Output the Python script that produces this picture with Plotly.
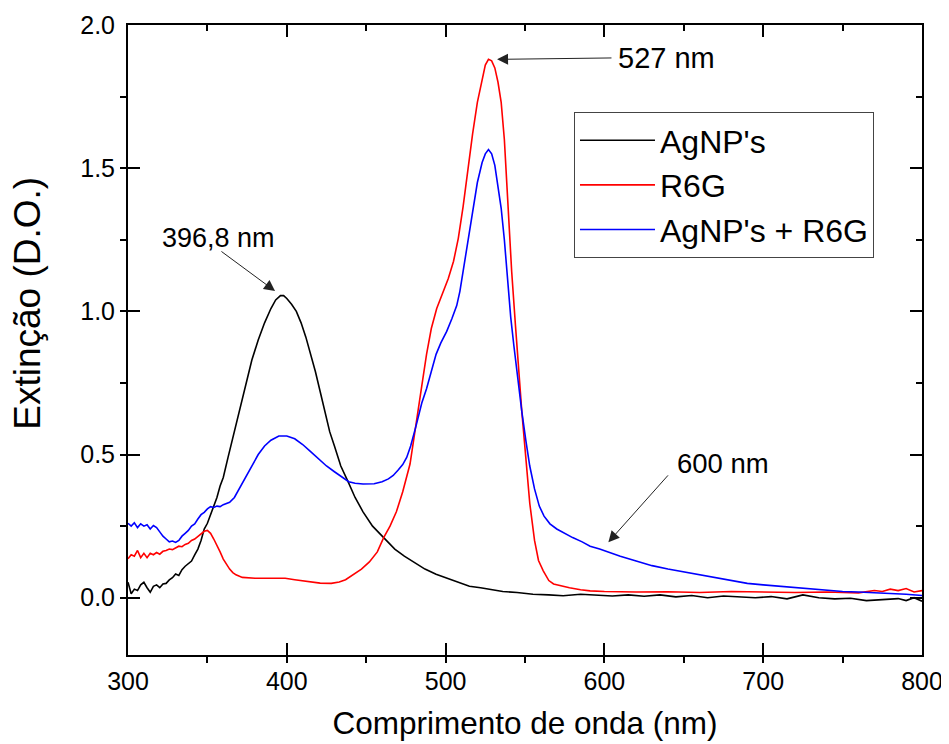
import plotly.graph_objects as go

# ---------------- data ----------------
wl_agnp = [300, 302, 304, 306, 308, 310, 312, 314, 316, 318, 320, 322, 324, 326, 328, 330, 332, 334, 336, 338,
           340, 342, 344, 346, 348, 350, 352, 354, 356, 358, 360, 363, 366, 370, 374, 378, 382, 386, 390, 393,
           396, 398, 400, 403, 406, 409, 412, 415, 418, 421, 424, 427, 430, 434, 439, 443, 448, 454, 461, 468,
           474, 480, 487, 494, 500, 507, 515, 522, 529, 536, 545, 555, 565, 574, 585, 595, 605, 615, 625, 635,
           645, 655, 665, 675, 685, 695, 705, 715, 725, 735, 745, 755, 765, 775, 785, 790, 795, 800]
ext_agnp = [0.054, 0.014, 0.030, 0.025, 0.045, 0.054, 0.035, 0.019, 0.040, 0.045, 0.035, 0.048, 0.050, 0.062,
            0.070, 0.083, 0.078, 0.098, 0.110, 0.118, 0.128, 0.150, 0.170, 0.200, 0.240, 0.260, 0.290, 0.320,
            0.350, 0.390, 0.420, 0.490, 0.560, 0.650, 0.740, 0.830, 0.900, 0.960, 1.010, 1.040, 1.055, 1.055,
            1.045, 1.025, 1.000, 0.960, 0.910, 0.850, 0.790, 0.720, 0.650, 0.580, 0.530, 0.460, 0.400, 0.350,
            0.300, 0.250, 0.210, 0.170, 0.145, 0.123, 0.100, 0.082, 0.070, 0.054, 0.040, 0.035, 0.028, 0.022,
            0.018, 0.012, 0.010, 0.007, 0.012, 0.008, 0.006, 0.010, 0.005, 0.010, 0.003, 0.008, 0.000, 0.006,
            0.002, 0.000, 0.004, -0.004, 0.010, 0.000, -0.004, -0.002, -0.010, -0.006, -0.003, -0.010, 0.000,
            -0.012]

wl_r6g = [300, 302, 304, 306, 308, 310, 312, 314, 316, 318, 320, 322, 324, 326, 328, 330, 332, 334, 336, 338,
          340, 342, 344, 346, 348, 350, 352, 354, 356, 358, 360, 362, 364, 366, 368, 372, 380, 390, 399, 405,
          412, 421, 428, 433, 437, 442, 447, 452, 457, 461, 465, 469, 473, 477.6, 481.4, 485, 488, 491, 494.4,
          498, 501.7, 505, 508, 511, 514, 517, 520, 523, 525, 527, 529, 531, 533, 535, 537, 539.5, 541.6, 544,
          546, 548, 550.5, 553, 556, 558.5, 561.5, 565, 568, 572, 578, 585, 591, 600, 620, 640, 660, 680, 700,
          720, 740, 760, 770, 775, 780, 785, 790, 795, 800]
ext_r6g = [0.136, 0.150, 0.145, 0.165, 0.140, 0.155, 0.140, 0.155, 0.150, 0.158, 0.152, 0.162, 0.165, 0.170,
           0.168, 0.175, 0.180, 0.178, 0.186, 0.190, 0.200, 0.205, 0.215, 0.225, 0.232, 0.235, 0.225, 0.205,
           0.185, 0.160, 0.135, 0.115, 0.100, 0.088, 0.080, 0.071, 0.068, 0.068, 0.068, 0.063, 0.058, 0.051,
           0.050, 0.055, 0.063, 0.080, 0.100, 0.125, 0.160, 0.210, 0.250, 0.300, 0.370, 0.467, 0.600, 0.740,
           0.850, 0.940, 1.010, 1.065, 1.115, 1.175, 1.255, 1.365, 1.500, 1.620, 1.730, 1.815, 1.860, 1.880,
           1.875, 1.850, 1.800, 1.730, 1.600, 1.350, 1.140, 0.950, 0.790, 0.650, 0.490, 0.330, 0.200, 0.130,
           0.094, 0.060, 0.048, 0.042, 0.035, 0.028, 0.024, 0.022, 0.020, 0.021, 0.018, 0.022, 0.020, 0.018,
           0.020, 0.017, 0.025, 0.022, 0.030, 0.025, 0.032, 0.020, 0.025]

wl_mix = [300, 302, 304, 306, 308, 310, 312, 314, 316, 318, 320, 322, 324, 326, 328, 330, 332, 334, 336, 338,
          340, 342, 344, 346, 348, 350, 352, 354, 356, 358, 360, 362, 364, 367, 370, 374, 378, 382, 386, 390,
          395, 400, 405, 410, 415, 420, 425, 430, 435, 439, 443, 448, 455, 460, 464, 467, 470, 473, 475.5, 478,
          481.4, 485, 488, 490, 494, 497, 500.7, 504, 507, 509, 511, 514, 517, 520, 523, 525, 527, 529, 531,
          533, 535, 537, 538.5, 541, 543, 545.5, 548, 550.5, 553, 556, 559, 562, 565.7, 570, 575, 580, 586,
          591, 597, 602, 610, 620, 630, 640, 650, 660, 670, 680, 690, 700, 710, 720, 730, 740, 750, 760, 770,
          780, 790, 800]
ext_mix = [0.260, 0.250, 0.262, 0.245, 0.258, 0.250, 0.255, 0.240, 0.252, 0.245, 0.230, 0.215, 0.205, 0.195,
           0.198, 0.193, 0.200, 0.215, 0.225, 0.235, 0.250, 0.258, 0.275, 0.290, 0.298, 0.310, 0.318, 0.315,
           0.320, 0.318, 0.325, 0.330, 0.333, 0.350, 0.380, 0.420, 0.460, 0.500, 0.530, 0.550, 0.565, 0.565,
           0.555, 0.535, 0.510, 0.485, 0.460, 0.440, 0.420, 0.405, 0.400, 0.397, 0.398, 0.405, 0.415, 0.427,
           0.445, 0.465, 0.490, 0.530, 0.600, 0.680, 0.730, 0.770, 0.850, 0.890, 0.930, 0.975, 1.020, 1.070,
           1.140, 1.240, 1.350, 1.450, 1.520, 1.550, 1.565, 1.550, 1.510, 1.440, 1.360, 1.250, 1.140, 0.980,
           0.880, 0.760, 0.650, 0.550, 0.460, 0.380, 0.320, 0.285, 0.258, 0.240, 0.225, 0.210, 0.195, 0.180,
           0.170, 0.160, 0.145, 0.128, 0.112, 0.100, 0.090, 0.080, 0.070, 0.060, 0.050, 0.045, 0.040, 0.035,
           0.030, 0.026, 0.022, 0.020, 0.018, 0.015, 0.012, 0.008]

series_names = ["AgNP's", "R6G", "AgNP's + R6G"]
x_ticks = [300, 400, 500, 600, 700, 800]
y_ticks = [0.0, 0.5, 1.0, 1.5, 2.0]
y_tick_labels = ["0.0", "0.5", "1.0", "1.5", "2.0"]
x_title = "Comprimento de onda (nm)"
y_title = "Extinção (D.O.)"

FONT = "Liberation Sans, Arial, sans-serif"

fig = go.Figure()
for wl, ext, name, col in [(wl_agnp, ext_agnp, series_names[0], "#000000"),
                           (wl_r6g, ext_r6g, series_names[1], "#ff0000"),
                           (wl_mix, ext_mix, series_names[2], "#0000ff")]:
    fig.add_trace(go.Scatter(x=wl, y=ext, mode="lines", name=name,
                             line=dict(color=col, width=1.6), legendgroup=name))

# invisible trace to anchor the mirrored (top/right) tick axes
fig.add_trace(go.Scatter(x=wl_agnp, y=ext_agnp, mode="lines", xaxis="x2", yaxis="y2",
                         line=dict(color="rgba(0,0,0,0)"), showlegend=False, hoverinfo="skip"))

axis_common = dict(showgrid=False, zeroline=False, linecolor="black", linewidth=2,
                   tickcolor="black", tickwidth=2, ticklen=12, ticks="inside", automargin=False,
                   tickfont=dict(family=FONT, size=25, color="black"))

fig.update_layout(
    width=949, height=744,
    margin=dict(l=120, r=35, t=17, b=97),
    paper_bgcolor="white", plot_bgcolor="white",
    font=dict(family=FONT, color="black"),
    xaxis=dict(range=[300, 800], tickvals=x_ticks, mirror=True, ticklabelstandoff=3,
               minor=dict(ticks="outside", ticklen=6, tickwidth=2, tickcolor="black", dtick=50),
               title=dict(text=x_title, font=dict(family=FONT, size=31.5), standoff=18),
               **axis_common),
    yaxis=dict(range=[-0.2, 2.0], tickvals=y_ticks, ticktext=y_tick_labels, mirror=True, ticklabelstandoff=6,
               minor=dict(ticks="outside", ticklen=6, tickwidth=2, tickcolor="black", dtick=0.25),
               **axis_common),
    xaxis2=dict(overlaying="x", side="top", anchor="y", range=[300, 800], tickvals=x_ticks,
                showticklabels=False, showline=False, showgrid=False, zeroline=False, automargin=False,
                ticks="inside", ticklen=12, tickwidth=2, tickcolor="black",
                minor=dict(ticks="inside", ticklen=6, tickwidth=2, tickcolor="black", dtick=50)),
    yaxis2=dict(overlaying="y", side="right", anchor="x", range=[-0.2, 2.0], tickvals=y_ticks,
                showticklabels=False, showline=False, showgrid=False, zeroline=False, automargin=False,
                ticks="inside", ticklen=12, tickwidth=2, tickcolor="black",
                minor=dict(ticks="inside", ticklen=6, tickwidth=2, tickcolor="black", dtick=0.25)),
    legend=dict(x=0.5617, y=0.862, xanchor="left", yanchor="top",
                bordercolor="#444444", borderwidth=1, bgcolor="white",
                font=dict(family=FONT, size=32, color="black"),
                itemwidth=75, tracegroupgap=0, traceorder="grouped"),
    showlegend=True,
)

# y-axis title as a rotated paper annotation (placed like the reference)
fig.add_annotation(x=-0.126, y=0.559, xref="paper", yref="paper", text=y_title, textangle=-90,
                   showarrow=False, xanchor="center", yanchor="middle",
                   font=dict(family=FONT, size=37, color="black"))

# arrows (text-less) and labels
arrows = [((605.4, 1.885), (532.4, 1.88)),
          ((357.9, 1.213), (392.6, 1.071)),
          ((640.9, 0.4325), (602.5, 0.194))]
for (tx, ty), (hx, hy) in arrows:
    fig.add_annotation(x=hx, y=hy, ax=tx, ay=ty, axref="x", ayref="y", xref="x", yref="y",
                       text="", showarrow=True, arrowhead=2, arrowsize=2.2, arrowwidth=1,
                       arrowcolor="#222222")
labels = [("527 nm", 607.3, 1.885, 29), ("396,8 nm", 320.2, 1.255, 27), ("600 nm", 644.5, 0.4685, 27.5)]
for txt, lx, ly, fs in labels:
    fig.add_annotation(x=lx, y=ly, xref="x", yref="y", text=txt, showarrow=False,
                       xanchor="left", yanchor="middle",
                       font=dict(family=FONT, size=fs, color="black"))

fig.write_html("out.html")
